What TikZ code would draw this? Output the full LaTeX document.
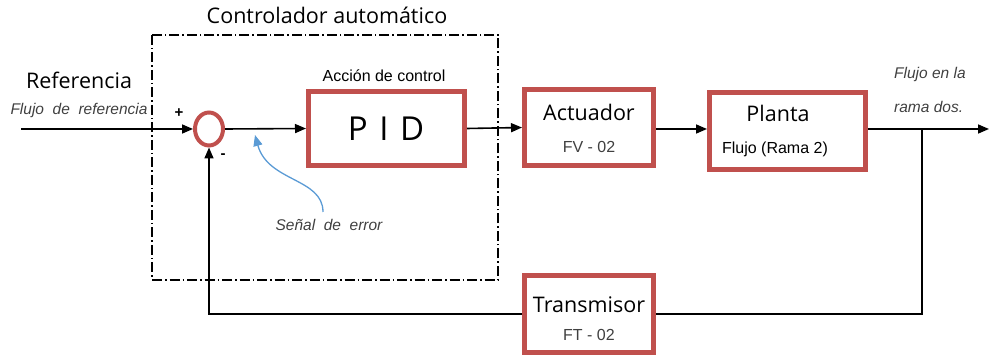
\documentclass[tikz,border=0pt]{standalone}
\usepackage{fontspec}
\setmainfont{Open Sans}
\newfontfamily\arialf{Liberation Sans}
\usetikzlibrary{arrows.meta,shapes.geometric}
\definecolor{boxred}{HTML}{C0504D}
\definecolor{errblue}{HTML}{5B9BD5}
\definecolor{txtgray}{HTML}{404040}
\tikzset{
  blk/.style={draw=boxred, line width=5pt, fill=white, inner sep=0pt},
  wire/.style={line width=1.6pt, black},
  arr/.style={wire, -{Triangle[length=11pt,width=9pt]}},
  big/.style={font=\fontsize{21.5}{24}\selectfont, inner sep=0pt},
  small/.style={font=\arialf\fontsize{16}{18}\selectfont, text=txtgray, inner sep=0pt},
  ital/.style={font=\arialf\itshape\fontsize{15.5}{18}\selectfont, text=txtgray, inner sep=0pt},
  ctrlbox/.style={line width=1.3pt, dash pattern=on 10pt off 3pt on 1.5pt off 3pt},
}
\begin{document}
\begin{tikzpicture}[x=1pt,y=-1pt]
\useasboundingbox (0,0) rectangle (989,358);
% controller frame
\draw[ctrlbox] (152,35) rectangle (498,280);
\node[big] (ctitle) at (327,15) {Controlador automático};
% blocks
\node[blk, minimum width=156pt, minimum height=74pt] (pid) at (386.5,128.5) {};
\node[font=\fontsize{33}{38}\selectfont, inner sep=0pt] (pidt) at (386,129) {P\hspace{0.35em}I\hspace{0.35em}D};
\node[small, text=black] (accion) at (384,76) {Acción de control};
\node[blk, minimum width=129pt, minimum height=76pt] (act) at (589,127.5) {};
\node[big] (actt) at (589,112) {Actuador};
\node[small] (fv) at (589,147) {FV - 02};
\node[blk, minimum width=156pt, minimum height=77pt] (plant) at (787.5,131) {};
\node[big] (plantt) at (778,113) {Planta};
\node[small, text=black] (flujo) at (775,149) {Flujo (Rama 2)};
\node[blk, minimum width=129pt, minimum height=77pt] (trans) at (589,314) {};
\node[big] (transt) at (589,305) {Transmisor};
\node[small] (ft) at (589,335) {FT - 02};
% summing junction
\node[draw=boxred, line width=4pt, ellipse, minimum width=28pt, minimum height=33pt, inner sep=0pt] (sum) at (209,129) {};
\node[font=\arialf\bfseries\fontsize{15}{16}\selectfont, inner sep=0pt] (plus) at (179,113) {+};
\node[font=\arialf\bfseries\fontsize{15}{16}\selectfont, inner sep=0pt] (minus) at (223,156) {-};
% labels
\node[big] (ref) at (79,80) {Referencia};
\node[ital] (refsub) at (79,110) {Flujo\ \ de\ \ referencia};
\node[ital, anchor=west] (out1) at (894,74) {Flujo\ en\ la};
\node[ital, anchor=west] (out2) at (894,107) {rama\ dos.};
\node[ital] (err) at (329,225) {Señal\ \ de\ \ error};
% coordinates
\coordinate (in) at (21,129);
\coordinate (outp) at (989,129);
\coordinate (br) at (922,129);
\coordinate (errstart) at (323,212);
\coordinate (errtip) at (255,135);
% connectors
\draw[arr] (in) -- (sum.west);
\draw[arr] (sum.east) -- (pid.west);
\draw[arr] (pid.east) -- (act.west);
\draw[arr] (act.east |- 0,129) -- (plant.west |- 0,129);
\draw[arr] (plant.east |- 0,129) -- (outp);
\draw[wire] (br) |- (trans.east);
\draw[arr] (trans.west) -| (sum.south);
\draw[errblue, line width=1.3pt, -{Triangle[length=11pt,width=9pt]}] (errstart) .. controls (323,178) and (268,182) .. (errtip);
\end{tikzpicture}
\end{document}
